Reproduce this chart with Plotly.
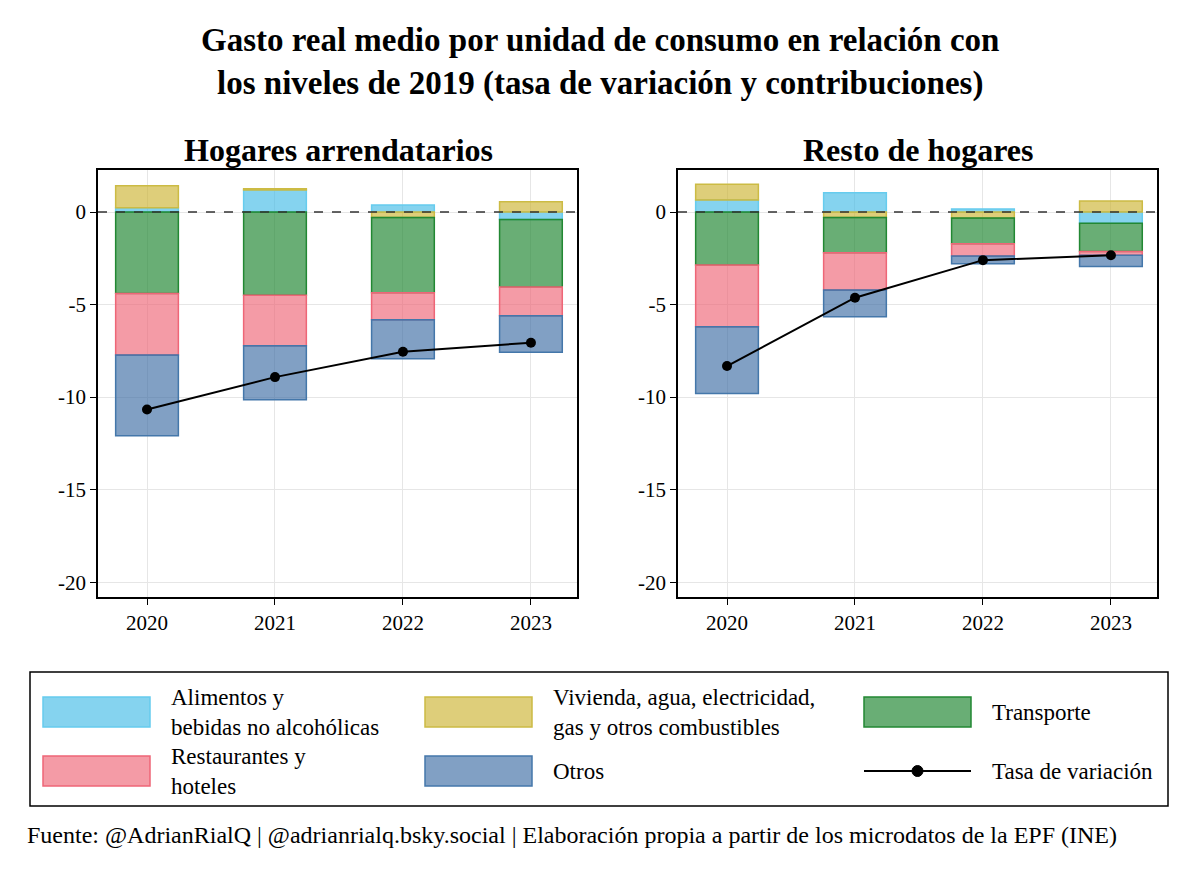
import plotly.graph_objects as go

years = ["2020", "2021", "2022", "2023"]
x_pos = [0, 1, 2, 3]
series_names = ["Alimentos y<br>bebidas no alcohólicas", "Vivienda, agua, electricidad,<br>gas y otros combustibles",
                "Transporte", "Restaurantes y<br>hoteles", "Otros"]

# Hogares arrendatarios
arr_alimentos = [0.23, 1.19, 0.38, -0.40]
arr_vivienda = [1.19, 0.07, -0.30, 0.56]
arr_transporte = [-4.40, -4.50, -4.06, -3.65]
arr_restaurantes = [-3.33, -2.73, -1.46, -1.55]
arr_otros = [-4.36, -2.91, -2.11, -1.98]
arr_tasa = [-10.67, -8.92, -7.55, -7.06]

# Resto de hogares
res_alimentos = [0.65, 1.04, 0.16, -0.61]
res_vivienda = [0.85, -0.30, -0.33, 0.60]
res_transporte = [-2.86, -1.90, -1.38, -1.53]
res_restaurantes = [-3.34, -2.02, -0.67, -0.20]
res_otros = [-3.60, -1.44, -0.41, -0.61]
res_tasa = [-8.32, -4.63, -2.60, -2.34]

yticks = [0, -5, -10, -15, -20]

fills = ["rgba(68,187,230,0.65)", "rgba(204,180,51,0.65)", "rgba(34,136,51,0.68)",
         "rgba(238,102,119,0.65)", "rgba(51,102,160,0.62)"]
lines = ["#66CCEE", "#CCBB44", "#228833", "#EE6677", "#4477AA"]

W, H = 1200, 873
OFF = 8
def px(x): return (x - OFF) / W
def py(y): return 1 - (y - OFF) / H

fig = go.Figure()
panels = [
    ("x", "y", [arr_alimentos, arr_vivienda, arr_transporte, arr_restaurantes, arr_otros], arr_tasa),
    ("x2", "y2", [res_alimentos, res_vivienda, res_transporte, res_restaurantes, res_otros], res_tasa),
]
for xa, ya, comps, tasa in panels:
    for i, vals in enumerate(comps):
        fig.add_trace(go.Bar(x=x_pos, y=vals, xaxis=xa, yaxis=ya, width=0.49,
                             marker=dict(color=fills[i], line=dict(color=lines[i], width=1.5)),
                             showlegend=False))
    fig.add_trace(go.Scatter(x=x_pos, y=tasa, xaxis=xa, yaxis=ya, mode="lines+markers",
                             line=dict(color="black", width=2), marker=dict(size=10, color="black"),
                             showlegend=False))

font = "Liberation Serif, Times New Roman, serif"
axis_common = dict(showline=True, linecolor="black", linewidth=1.5, mirror=True,
                   showgrid=True, gridcolor="#e6e6e6", ticks="outside", ticklen=6,
                   tickcolor="black", tickfont=dict(family=font, size=21, color="black"), zeroline=False)
xcommon = dict(axis_common, range=[-0.383, 3.36], tickvals=x_pos, ticktext=years)
ycommon = dict(axis_common, range=[-20.8, 2.27], tickvals=yticks, ticktext=[str(v) for v in yticks])

fig.update_layout(
    width=W, height=H, margin=dict(l=0, r=0, t=0, b=0),
    paper_bgcolor="white", plot_bgcolor="white", barmode="relative",
    xaxis=dict(xcommon, domain=[px(98), px(577)], anchor="y"),
    yaxis=dict(ycommon, domain=[py(597), py(170)], anchor="x"),
    xaxis2=dict(xcommon, domain=[px(678), px(1157)], anchor="y2"),
    yaxis2=dict(ycommon, domain=[py(597), py(170)], anchor="x2"),
    font=dict(family=font, color="black"),
)

shapes = []
for xr, yr in [("x domain", "y"), ("x2 domain", "y2")]:
    shapes.append(dict(type="line", xref=xr, yref=yr, x0=0, x1=1, y0=0, y1=0,
                       line=dict(color="#333", width=1.5, dash="dash"), layer="above"))
# legend box
shapes.append(dict(type="rect", xref="paper", yref="paper", x0=px(30), x1=px(1168), y0=py(806), y1=py(672),
                   line=dict(color="black", width=1.5)))
ann = []
ann.append(dict(text="<b>Gasto real medio por unidad de consumo en relación con<br>los niveles de 2019 (tasa de variación y contribuciones)</b>",
                x=px(600), y=py(20), xref="paper", yref="paper", xanchor="center", yanchor="top",
                showarrow=False, font=dict(family=font, size=33), align="center"))
ann.append(dict(text="<b>Hogares arrendatarios</b>", x=px(338), y=py(150), xref="paper", yref="paper",
                xanchor="center", yanchor="middle", showarrow=False, font=dict(family=font, size=32)))
ann.append(dict(text="<b>Resto de hogares</b>", x=px(918), y=py(150), xref="paper", yref="paper",
                xanchor="center", yanchor="middle", showarrow=False, font=dict(family=font, size=32)))
ann.append(dict(text="Fuente: @AdrianRialQ | @adrianrialq.bsky.social | Elaboración propia a partir de los microdatos de la EPF (INE)",
                x=px(25), y=py(835), xref="paper", yref="paper", xanchor="left", yanchor="middle",
                showarrow=False, font=dict(family=font, size=24)))

legend_items = [(0, 43, 712, 169), (1, 425, 712, 551), (2, 864, 712, 990),
                (3, 43, 771, 169), (4, 425, 771, 551)]
for idx, sx, cy, tx in legend_items:
    shapes.append(dict(type="rect", xref="paper", yref="paper", x0=px(sx), x1=px(sx + 107),
                       y0=py(cy + 15), y1=py(cy - 15), fillcolor=fills[idx],
                       line=dict(color=lines[idx], width=1.5)))
    ann.append(dict(text=series_names[idx], x=px(tx), y=py(cy), xref="paper", yref="paper",
                    xanchor="left", yanchor="middle", showarrow=False, align="left",
                    font=dict(family=font, size=23)))
shapes.append(dict(type="line", xref="paper", yref="paper", x0=px(864), x1=px(971), y0=py(771), y1=py(771),
                   line=dict(color="black", width=2)))
shapes.append(dict(type="circle", xref="paper", yref="paper", x0=px(912), x1=px(923), y0=py(776.5), y1=py(765.5),
                   fillcolor="black", line=dict(color="black", width=1)))
ann.append(dict(text="Tasa de variación", x=px(990), y=py(771), xref="paper", yref="paper",
                xanchor="left", yanchor="middle", showarrow=False, font=dict(family=font, size=23)))

fig.update_layout(shapes=shapes, annotations=ann)
fig.write_html("out.html")
